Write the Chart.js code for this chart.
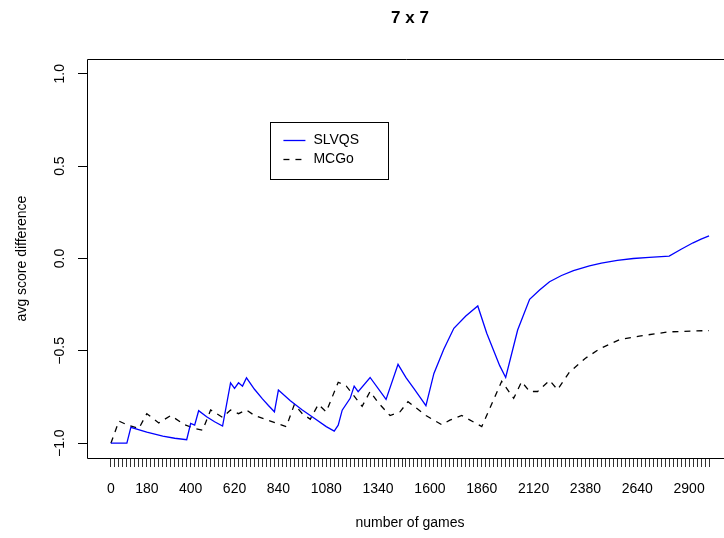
<!DOCTYPE html>
<html>
<head>
<meta charset="utf-8">
<script src="https://cdn.jsdelivr.net/npm/chart.js@4"></script>
<style>
  body { margin: 0; background: #fff; }
  canvas { display: block; }
</style>
</head>
<body>
<canvas id="chart" width="724" height="538"></canvas>
<script>
// games played vs. average score difference
const slvqsGames = [0, 80, 100, 180, 260, 320, 380, 400, 420, 440, 480, 520, 560, 600, 620, 640, 660, 680, 720, 760,
  790, 820, 840, 900, 960, 1020, 1080, 1120, 1140, 1160, 1200, 1220, 1240, 1300, 1380, 1440, 1480, 1520, 1550, 1580,
  1620, 1670, 1720, 1780, 1840, 1885, 1920, 1950, 1980, 2040, 2100, 2150, 2200, 2260, 2320, 2400, 2460, 2540, 2620, 2700,
  2800, 2860, 2920, 2960, 3000];
const slvqsScores = [-1.0, -1.0, -0.914, -0.94, -0.962, -0.973, -0.981, -0.893, -0.902, -0.824, -0.857, -0.884, -0.907, -0.673, -0.703, -0.673, -0.691, -0.646, -0.708, -0.76,
  -0.796, -0.83, -0.712, -0.77, -0.82, -0.865, -0.91, -0.934, -0.902, -0.821, -0.757, -0.691, -0.721, -0.644, -0.763, -0.573, -0.645, -0.705, -0.75, -0.797,
  -0.622, -0.49, -0.378, -0.311, -0.257, -0.405, -0.5, -0.58, -0.644, -0.387, -0.221, -0.17, -0.126, -0.092, -0.066, -0.04, -0.025, -0.01, 0.0, 0.006,
  0.013, 0.05, 0.085, 0.105, 0.122];

const mcgoGames = [0, 40, 80, 140, 180, 240, 300, 370, 420, 460, 500, 560, 600, 640, 680, 720, 800, 880, 920, 960,
  1000, 1040, 1080, 1140, 1180, 1260, 1300, 1340, 1400, 1450, 1490, 1580, 1660, 1700, 1760, 1860, 1960, 2020, 2060, 2100,
  2140, 2200, 2240, 2300, 2380, 2450, 2550, 2650, 2800, 3000];
const mcgoScores = [-1.0, -0.88, -0.90, -0.92, -0.84, -0.89, -0.85, -0.90, -0.92, -0.93, -0.82, -0.86, -0.82, -0.84, -0.82, -0.85, -0.88, -0.91, -0.79, -0.84,
  -0.87, -0.79, -0.83, -0.67, -0.69, -0.80, -0.72, -0.78, -0.85, -0.83, -0.775, -0.85, -0.90, -0.875, -0.85, -0.91, -0.665, -0.757, -0.667, -0.72,
  -0.72, -0.66, -0.71, -0.615, -0.54, -0.49, -0.44, -0.42, -0.397, -0.39];

// axis ticks: one mark every 20 games, only some labelled (R drops overlapping ones)
const xTickStep = 20;
const xTickMax = 3000;
const xLabels = [0, 180, 400, 620, 840, 1080, 1340, 1600, 1860, 2120, 2380, 2640, 2900];
const yTicks = [-1.0, -0.5, 0.0, 0.5, 1.0];

const FONT = "'Liberation Sans', Arial, Helvetica, sans-serif";

const toPoints = (xs, ys) => xs.map((x, i) => ({ x: x, y: ys[i] }));

function fmtY(v) {
  const s = Math.abs(v).toFixed(1);
  return v < 0 ? "\u2212" + s : s;
}

const rPlot = {
  id: "rPlot",
  afterDraw(chart) {
    const ctx = chart.ctx;
    const area = chart.chartArea;
    const xs = chart.scales.x;
    const ys = chart.scales.y;
    const midX = xs.getPixelForValue(1500);
    ctx.save();

    // box round the plot region
    ctx.strokeStyle = "#000";
    ctx.lineWidth = 1;
    ctx.beginPath();
    ctx.moveTo(area.right + 5, Math.round(area.top) + 0.5);
    ctx.lineTo(Math.round(area.left) + 0.5, Math.round(area.top) + 0.5);
    ctx.lineTo(Math.round(area.left) + 0.5, Math.round(area.bottom) + 0.5);
    ctx.lineTo(area.right + 5, Math.round(area.bottom) + 0.5);
    ctx.stroke();

    ctx.fillStyle = "#000";
    // y tick labels, rotated like R's las = 0
    ctx.font = "14px " + FONT;
    ctx.textAlign = "center";
    ctx.textBaseline = "middle";
    yTicks.forEach((v) => {
      ctx.save();
      ctx.translate(area.left - 27, ys.getPixelForValue(v));
      ctx.rotate(-Math.PI / 2);
      ctx.fillText(fmtY(v), 0, 0);
      ctx.restore();
    });

    // axis titles
    ctx.save();
    ctx.translate(22, (area.top + area.bottom) / 2);
    ctx.rotate(-Math.PI / 2);
    ctx.fillText("avg score difference", 0, 0);
    ctx.restore();
    ctx.fillText("number of games", midX, 523);

    ctx.font = "bold 17px " + FONT;
    ctx.fillText("7 x 7", midX, 18);

    // legend
    const lx = xs.getPixelForValue(800);
    const ly = ys.getPixelForValue(0.74);
    ctx.lineWidth = 1;
    ctx.strokeRect(Math.round(lx) + 0.5, Math.round(ly) + 0.5, 118, 57);
    ctx.font = "14px " + FONT;
    ctx.textAlign = "left";
    chart.data.datasets.forEach((ds, i) => {
      const yy = Math.round(ly) + 18 + i * 19;
      ctx.strokeStyle = ds.borderColor;
      ctx.lineWidth = ds.borderWidth;
      ctx.setLineDash(ds.borderDash || []);
      ctx.beginPath();
      ctx.moveTo(lx + 13, yy + 0.5);
      ctx.lineTo(lx + 35, yy + 0.5);
      ctx.stroke();
      ctx.setLineDash([]);
      ctx.fillText(ds.label, lx + 43, yy);
    });
    ctx.restore();
  },
};

new Chart(document.getElementById("chart"), {
  type: "line",
  data: {
    datasets: [
      {
        label: "SLVQS",
        data: toPoints(slvqsGames, slvqsScores),
        borderColor: "#0000ff",
        borderWidth: 1.3,
        pointRadius: 0,
        tension: 0,
        fill: false,
      },
      {
        label: "MCGo",
        data: toPoints(mcgoGames, mcgoScores),
        borderColor: "#000000",
        borderWidth: 1.3,
        borderDash: [6, 6],
        pointRadius: 0,
        tension: 0,
        fill: false,
      },
    ],
  },
  options: {
    responsive: false,
    animation: false,
    layout: { padding: { top: 59, right: 0, left: 0, bottom: 0 } },
    plugins: {
      legend: { display: false },
      title: { display: false },
      tooltip: { enabled: false },
    },
    scales: {
      x: {
        type: "linear",
        min: -120,
        max: 3075,
        afterBuildTicks: (scale) => {
          const t = [];
          for (let g = 0; g <= xTickMax; g += xTickStep) t.push({ value: g });
          scale.ticks = t;
        },
        afterFit: (scale) => { scale.height = 80; },
        grid: {
          drawOnChartArea: false,
          drawTicks: true,
          tickLength: 9,
          color: "#333",
        },
        border: { display: false },
        ticks: {
          autoSkip: false,
          maxRotation: 0,
          padding: 14,
          color: "#000",
          font: { family: FONT, size: 14 },
          callback: (v) => (xLabels.includes(v) ? String(v) : ""),
        },
      },
      y: {
        type: "linear",
        min: -1.08,
        max: 1.08,
        afterBuildTicks: (scale) => {
          scale.ticks = yTicks.map((v) => ({ value: v }));
        },
        afterFit: (scale) => { scale.width = 87; },
        grid: {
          drawOnChartArea: false,
          drawTicks: true,
          tickLength: 9,
          color: "#000",
        },
        border: { display: false },
        ticks: { display: false },
      },
    },
  },
  plugins: [rPlot],
});
</script>
</body>
</html>
